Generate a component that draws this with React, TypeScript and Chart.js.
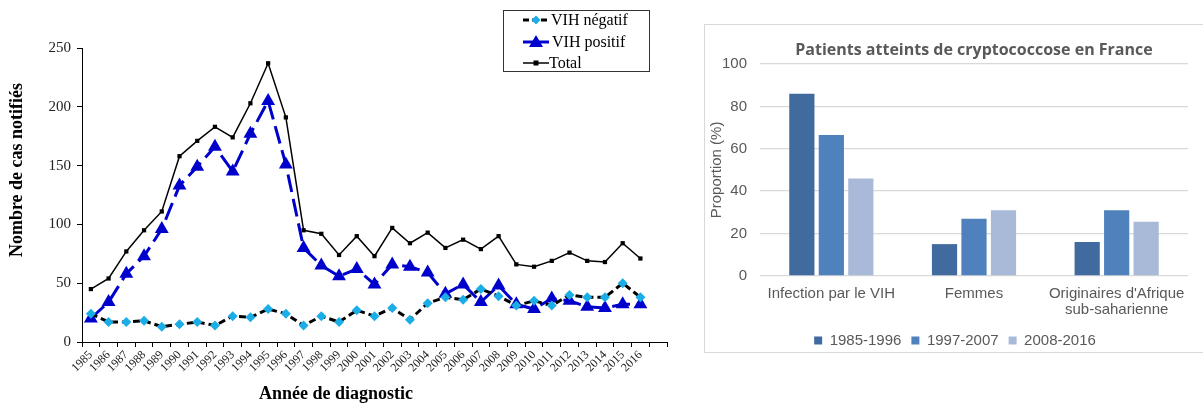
import React, { useEffect, useRef } from 'react';
import { Chart, registerables } from 'chart.js';
Chart.register(...registerables);

// ---- Left chart data ----
const years = ['1985','1986','1987','1988','1989','1990','1991','1992','1993','1994','1995','1996','1997','1998','1999','2000','2001','2002','2003','2004','2005','2006','2007','2008','2009','2010','2011','2012','2013','2014','2015','2016',''];
const vihNegatif = [24,17,17,18,13,15,17,14,22,21,28,24,14,22,17,27,22,29,19,33,38,36,45,39,31,35,31,40,38,38,50,38,null];
const vihPositif = [20,34,58,73,96,133,149,166,145,177,205,151,80,65,56,62,49,66,64,59,41,49,34,48,32,28,37,35,30,29,32,32,null];
const total = [45,54,77,95,111,158,171,183,174,203,237,191,95,92,74,90,73,97,84,93,80,87,79,90,66,64,69,76,69,68,84,71,null];
const leftYTicks = [0, 50, 100, 150, 200, 250];

// ---- Right chart data ----
const groups = [['Infection par le VIH'], ['Femmes'], ["Originaires d'Afrique", 'sub-saharienne']];
const periods = ['1985-1996', '1997-2007', '2008-2016'];
const period1 = [86, 15, 16];
const period2 = [66.5, 27, 31];
const period3 = [46, 31, 25.5];
const rightYTicks = [0, 20, 40, 60, 80, 100];
const rightTitle = 'Patients atteints de cryptococcose en France';

const SERIF = '"Liberation Serif", "Times New Roman", serif';
const SANS = '"Liberation Sans", Arial, sans-serif';
const BLUE = '#0000CC';
const CYAN = '#1AADE6';
const BAR_COLORS = ['#416A9E', '#4F81BD', '#A9BAD8'];

const leftDecor = {
  id: 'leftDecor',
  afterDraw(chart: any) {
    const ctx = chart.ctx;
    ctx.save();
    // axis titles
    ctx.fillStyle = '#000';
    ctx.font = `bold 18px ${SERIF}`;
    ctx.textAlign = 'center';
    ctx.textBaseline = 'middle';
    ctx.save();
    ctx.translate(17, 170);
    ctx.rotate(-Math.PI / 2);
    ctx.fillText('Nombre de cas notifiés', 0, 0);
    ctx.restore();
    ctx.fillText('Année de diagnostic', 336, 394);

    // legend box
    ctx.strokeStyle = '#333';
    ctx.lineWidth = 1;
    ctx.strokeRect(503.5, 10.5, 146, 61);
    const x0 = 523, x1 = 549, mx = 536;
    // negatif
    let y = 20;
    ctx.strokeStyle = '#000';
    ctx.lineWidth = 3;
    ctx.setLineDash([6, 3]);
    ctx.beginPath(); ctx.moveTo(x0, y); ctx.lineTo(x1, y); ctx.stroke();
    ctx.setLineDash([]);
    ctx.fillStyle = CYAN;
    ctx.beginPath(); ctx.moveTo(mx, y - 4.5); ctx.lineTo(mx + 4.5, y); ctx.lineTo(mx, y + 4.5); ctx.lineTo(mx - 4.5, y); ctx.closePath(); ctx.fill();
    // positif
    y = 42;
    ctx.strokeStyle = BLUE;
    ctx.lineWidth = 3;
    ctx.beginPath(); ctx.moveTo(x0, y); ctx.lineTo(x1, y); ctx.stroke();
    ctx.fillStyle = BLUE;
    ctx.beginPath(); ctx.moveTo(mx, y - 7); ctx.lineTo(mx + 7, y + 5); ctx.lineTo(mx - 7, y + 5); ctx.closePath(); ctx.fill();
    // total
    y = 63;
    ctx.strokeStyle = '#000';
    ctx.lineWidth = 1.5;
    ctx.beginPath(); ctx.moveTo(x0, y); ctx.lineTo(x1, y); ctx.stroke();
    ctx.fillStyle = '#000';
    ctx.fillRect(mx - 2.5, y - 2.5, 5, 5);
    // labels
    ctx.fillStyle = '#000';
    ctx.font = `16px ${SERIF}`;
    ctx.textAlign = 'left';
    ctx.fillText('VIH négatif', 551, 21);
    ctx.fillText('VIH positif', 552, 43);
    ctx.fillText('Total', 549, 64);
    ctx.restore();
  },
};

const rightTitlePlugin = {
  id: 'rightTitle',
  afterDraw(chart: any) {
    const ctx = chart.ctx;
    const a = chart.chartArea;
    ctx.save();
    ctx.fillStyle = '#595959';
    ctx.font = 'bold 16px "Open Sans", sans-serif';
    ctx.textAlign = 'center';
    ctx.textBaseline = 'middle';
    ctx.fillText(rightTitle, (a.left + a.right) / 2, 25);
    ctx.restore();
  },
};

function LeftChart() {
  const ref = useRef<HTMLCanvasElement>(null);
  useEffect(() => {
    const chart = new Chart(ref.current!, {
      type: 'line',
      data: {
        labels: years,
        datasets: [
          {
            label: 'VIH négatif',
            data: vihNegatif,
            borderColor: '#000',
            borderWidth: 3,
            borderDash: [7, 4],
            pointStyle: 'rectRot',
            pointRadius: 5,
            pointBackgroundColor: CYAN,
            pointBorderColor: CYAN,
            pointBorderWidth: 0,
            tension: 0,
          },
          {
            label: 'VIH positif',
            data: vihPositif,
            borderColor: BLUE,
            borderWidth: 3,
            borderDash: [18, 7],
            pointStyle: 'triangle',
            pointRadius: 8,
            pointBackgroundColor: BLUE,
            pointBorderColor: BLUE,
            pointBorderWidth: 0,
            tension: 0,
          },
          {
            label: 'Total',
            data: total,
            borderColor: '#000',
            borderWidth: 1.5,
            pointStyle: 'rect',
            pointRadius: 3,
            pointBackgroundColor: '#000',
            pointBorderColor: '#000',
            pointBorderWidth: 0,
            tension: 0,
          },
        ],
      },
      options: {
        responsive: false,
        animation: false,
        events: [],
        layout: { padding: { top: 48, right: 13, left: 0, bottom: 0 } },
        plugins: { legend: { display: false }, tooltip: { enabled: false }, title: { display: false } },
        scales: {
          x: {
            type: 'category',
            offset: true,
            grid: { display: true, offset: true, drawOnChartArea: false, tickLength: 5, color: '#000', lineWidth: 1 },
            border: { display: true, color: '#000', width: 1 },
            ticks: {
              autoSkip: false,
              minRotation: 45,
              maxRotation: 45,
              padding: 1,
              color: '#222',
              font: { family: SERIF, size: 12 },
            },
            afterFit: (s: any) => { s.height = 63; },
          },
          y: {
            min: 0,
            max: 250,
            afterBuildTicks: (s: any) => { s.ticks = leftYTicks.map((v) => ({ value: v })); },
            grid: { display: true, drawOnChartArea: false, tickLength: 5, color: '#000', lineWidth: 1 },
            border: { display: true, color: '#000', width: 1 },
            ticks: { padding: 6, color: '#222', font: { family: SERIF, size: 15 } },
            afterFit: (s: any) => { s.width = 82; },
          },
        },
      },
      plugins: [leftDecor],
    });
    return () => chart.destroy();
  }, []);
  return <canvas ref={ref} width={680} height={405} style={{ position: 'absolute', left: 0, top: 0, width: 680, height: 405 }} />;
}

function RightChart() {
  const ref = useRef<HTMLCanvasElement>(null);
  useEffect(() => {
    const values = [period1, period2, period3];
    const chart = new Chart(ref.current!, {
      type: 'bar',
      data: {
        labels: groups,
        datasets: periods.map((p, i) => ({
          label: p,
          data: values[i],
          backgroundColor: BAR_COLORS[i],
          borderWidth: 0,
          categoryPercentage: 0.62,
          barPercentage: 0.855,
          yAxisID: 'y',
        })),
      },
      options: {
        responsive: false,
        animation: false,
        events: [],
        layout: { padding: { top: 39, right: 0, left: 0, bottom: 0 } },
        plugins: {
          tooltip: { enabled: false },
          title: { display: false },
          legend: {
            display: true,
            position: 'bottom',
            labels: {
              boxWidth: 8,
              boxHeight: 8,
              padding: 10,
              color: '#595959',
              font: { family: SANS, size: 15 },
            },
          },
        },
        scales: {
          x: {
            grid: { display: false },
            border: { display: false },
            ticks: { color: '#595959', padding: 2, font: { family: SANS, size: 15, lineHeight: 1.07 } },
            afterFit: (s: any) => { s.height = s.height + 3; },
          },
          y: {
            min: 0,
            max: 100,
            afterBuildTicks: (s: any) => { s.ticks = rightYTicks.map((v) => ({ value: v })); },
            grid: { color: '#D9D9D9', lineWidth: 1.3, drawTicks: false },
            border: { display: false },
            ticks: { color: '#595959', padding: 13, font: { family: SANS, size: 15 } },
            title: { display: true, text: 'Proportion (%)', color: '#595959', font: { family: SANS, size: 15 }, padding: { top: 3, bottom: 0 } },
            afterFit: (s: any) => { s.width = 55; },
          },
          y2: {
            position: 'right',
            display: true,
            grid: { display: false },
            border: { display: false },
            ticks: { display: false },
            afterFit: (s: any) => { s.width = 17; },
          },
        },
      },
      plugins: [rightTitlePlugin],
    });
    return () => chart.destroy();
  }, []);
  return <canvas ref={ref} width={500} height={333} style={{ position: 'absolute', left: 705, top: 25, width: 500, height: 333 }} />;
}

export default function App() {
  return (
    <div style={{ position: 'fixed', left: 0, top: 0, width: 1203, height: 405, overflow: 'hidden', background: '#fff' }}>
      <LeftChart />
      <div style={{ position: 'absolute', left: 704, top: 24, width: 520, height: 327, border: '1px solid #D9D9D9' }} />
      <RightChart />
    </div>
  );
}
